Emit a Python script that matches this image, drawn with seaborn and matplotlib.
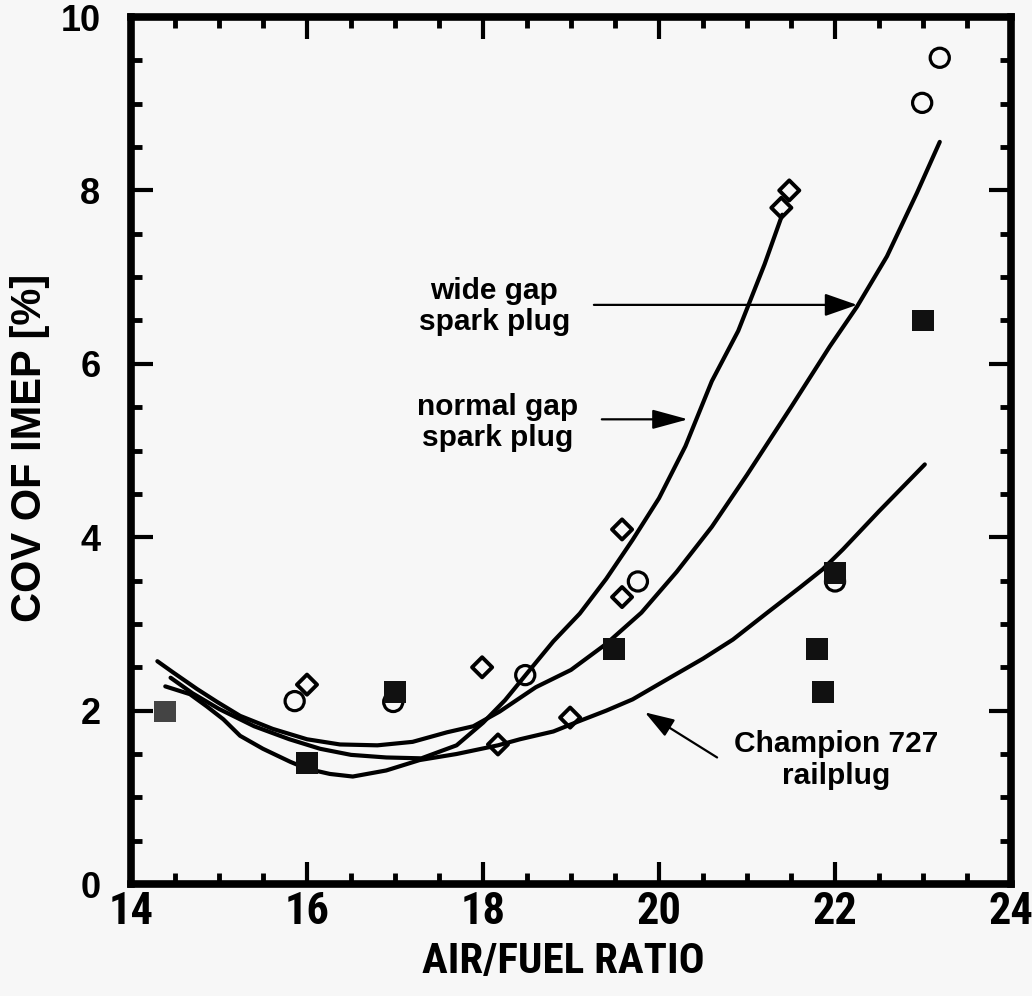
import matplotlib
matplotlib.use("Agg")
import matplotlib.pyplot as plt
from matplotlib import font_manager as fm
from matplotlib.ticker import MultipleLocator, FixedLocator
import seaborn as sns
import pandas as pd

# ---------------- data ----------------
# measured points (open circles, open diamonds, filled squares)
circle_x = [15.86, 16.98, 18.48, 19.76, 22.0, 22.99, 23.19]
circle_y = [2.11, 2.10, 2.41, 3.49, 3.49, 9.01, 9.53]
diamond_x = [16.0, 17.99, 18.17, 18.99, 19.58, 19.58, 21.39, 21.48]
diamond_y = [2.30, 2.50, 1.61, 1.92, 4.09, 3.31, 7.80, 8.00]
square_x = [14.39, 16.0, 17.0, 19.49, 21.80, 21.86, 22.0, 23.0]
square_y = [1.99, 1.40, 2.21, 2.71, 2.71, 2.21, 3.59, 6.50]

# fitted curves
normal_x = [14.45, 14.7, 15.0, 15.4, 15.8, 16.15, 16.5, 16.9, 17.3, 17.7, 18.0,
            18.25, 18.5, 18.8, 19.1, 19.4, 19.7, 20.0, 20.3, 20.6, 20.9, 21.2, 21.4]
normal_y = [2.38, 2.20, 2.02, 1.82, 1.67, 1.56, 1.49, 1.46, 1.45, 1.60, 1.86,
            2.12, 2.43, 2.80, 3.12, 3.52, 3.97, 4.45, 5.05, 5.80, 6.38, 7.15, 7.72]

wide_x = [14.30, 14.48, 14.75, 14.98, 15.24, 15.61, 16.0, 16.375, 16.8, 17.2, 17.59,
          17.89, 18.19, 18.6, 19.0, 19.4, 19.8, 20.2, 20.6, 21.0, 21.5, 21.94,
          22.25, 22.59, 22.93, 23.19]
wide_y = [2.57, 2.44, 2.25, 2.10, 1.94, 1.79, 1.67, 1.61, 1.60, 1.64, 1.75,
          1.82, 1.99, 2.27, 2.47, 2.77, 3.13, 3.60, 4.12, 4.72, 5.50, 6.20,
          6.66, 7.24, 7.97, 8.56]

champ_x = [14.39, 14.67, 14.86, 15.05, 15.24, 15.5, 15.81, 16.0, 16.26, 16.52, 16.9,
           17.28, 17.7, 18.17, 18.42, 18.8, 19.07, 19.4, 19.7, 20.09, 20.5, 20.84,
           21.23, 21.6, 21.86, 22.09, 22.5, 23.02]
champ_y = [2.28, 2.19, 2.05, 1.90, 1.71, 1.56, 1.41, 1.33, 1.27, 1.24, 1.31,
           1.43, 1.50, 1.60, 1.67, 1.76, 1.87, 2.00, 2.13, 2.36, 2.60, 2.82,
           3.13, 3.42, 3.63, 3.86, 4.30, 4.84]

x_ticks = [14, 16, 18, 20, 22, 24]
y_ticks = [0, 2, 4, 6, 8, 10]

# ---------------- style ----------------
sns.set_theme(style="ticks")
avail = {f.name for f in fm.fontManager.ttflist}
main_font = "Liberation Sans" if "Liberation Sans" in avail else "DejaVu Sans"
plt.rcParams["font.family"] = [main_font, "DejaVu Sans"]
plt.rcParams["font.weight"] = "bold"

# a condensed face for the x axis texts, if one is installed
narrow_props = None
for cand in ["Liberation Sans Narrow", "Roboto Condensed", "Open Sans Condensed",
             "Arial Narrow"]:
    if cand in avail:
        narrow_props = dict(family=[cand, main_font])
        break
if narrow_props is None:
    cond = [f for f in fm.fontManager.ttflist
            if f.name == "DejaVu Sans" and "condensed" in str(f.stretch).lower()]
    if cond:
        narrow_props = dict(family=["DejaVu Sans"], stretch="condensed")
    else:
        narrow_props = dict(family=[main_font])

BG = "#f7f7f7"
fig = plt.figure(figsize=(10.32, 9.96), dpi=100, facecolor=BG)
ax = fig.add_axes([0.1269, 0.1124, 0.8528, 0.8705])
ax.set_facecolor(BG)

# curves
for cx, cy in [(normal_x, normal_y), (wide_x, wide_y), (champ_x, champ_y)]:
    df = pd.DataFrame({"x": cx, "y": cy})
    sns.lineplot(data=df, x="x", y="y", sort=False, estimator=None,
                 color="black", lw=3.0, ax=ax)

# markers
sns.scatterplot(x=circle_x, y=circle_y, marker="o", s=190, ax=ax,
                facecolor="none", edgecolor="black", linewidth=2.3, zorder=4)
ax.collections[-1].set_facecolor("none")
ax.collections[-1].set_edgecolor("black")
sns.scatterplot(x=diamond_x, y=diamond_y, marker="D", s=105, ax=ax,
                facecolor="none", edgecolor="black", linewidth=2.8, zorder=4)
ax.collections[-1].set_facecolor("none")
ax.collections[-1].set_edgecolor("black")
sns.scatterplot(x=square_x, y=square_y, marker="s", s=250, ax=ax,
                color="#111111", linewidth=0, zorder=4)
sq = ax.collections[-1]
sq.set_facecolor(["#444444"] + ["#111111"] * (len(square_x) - 1))

# axes
ax.set_xlim(14, 24)
ax.set_ylim(0, 10)
ax.xaxis.set_major_locator(FixedLocator(x_ticks))
ax.yaxis.set_major_locator(FixedLocator(y_ticks))
ax.xaxis.set_minor_locator(MultipleLocator(0.5))
ax.yaxis.set_minor_locator(MultipleLocator(0.5))
ax.set_xticklabels([str(t) for t in x_ticks])
ax.set_yticklabels([str(t) for t in y_ticks])

for sp in ax.spines.values():
    sp.set_visible(True)
    sp.set_linewidth(5.5)
    sp.set_color("black")

ax.tick_params(which="major", direction="in", length=16, width=3,
               top=True, right=True, color="black", labelcolor="black")
ax.tick_params(which="minor", direction="in", length=8, width=3.5,
               top=True, right=True, color="black")
ax.tick_params(axis="x", which="major", pad=5, labelsize=32)
ax.tick_params(axis="y", which="major", pad=22, labelsize=26)
for lab in ax.get_xticklabels():
    lab.set_fontweight("bold")
    lab.set_fontproperties(fm.FontProperties(weight="bold", size=32, **narrow_props))
for lab in ax.get_yticklabels():
    lab.set_fontweight("bold")

ax.set_xlabel("AIR/FUEL RATIO", color="black", va="center",
              fontproperties=fm.FontProperties(weight="bold", size=31, **narrow_props))
ax.set_ylabel("COV OF IMEP [%]", fontsize=30, fontweight="bold", color="black",
              va="center")
ax.xaxis.set_label_coords(0.491, -0.089)
ax.yaxis.set_label_coords(-0.115, 0.503)

# annotations
txt_kw = dict(fontsize=21.5, fontweight="bold", ha="center", va="center",
              linespacing=1.15, color="black")
ax.text(18.13, 6.66, "wide gap\nspark plug", **txt_kw)
ax.text(18.17, 5.32, "normal gap\nspark plug", **txt_kw)
ax.text(22.01, 1.43, "Champion 727\nrailplug", **txt_kw)

ax.annotate("", xy=(22.25, 6.68), xytext=(19.26, 6.68),
            arrowprops=dict(arrowstyle="-|>,head_length=20,head_width=7",
                            mutation_scale=1, lw=1.6, color="black",
                            shrinkA=0, shrinkB=0))
ax.annotate("", xy=(20.33, 5.36), xytext=(19.35, 5.36),
            arrowprops=dict(arrowstyle="-|>,head_length=22,head_width=6",
                            mutation_scale=1, lw=1.6, color="black",
                            shrinkA=0, shrinkB=0))
ax.annotate("", xy=(19.84, 1.98), xytext=(20.66, 1.46),
            arrowprops=dict(arrowstyle="-|>,head_length=18,head_width=6",
                            mutation_scale=1, lw=1.6, color="black",
                            shrinkA=0, shrinkB=0))

fig.savefig("out.png", dpi=100, facecolor=BG)
